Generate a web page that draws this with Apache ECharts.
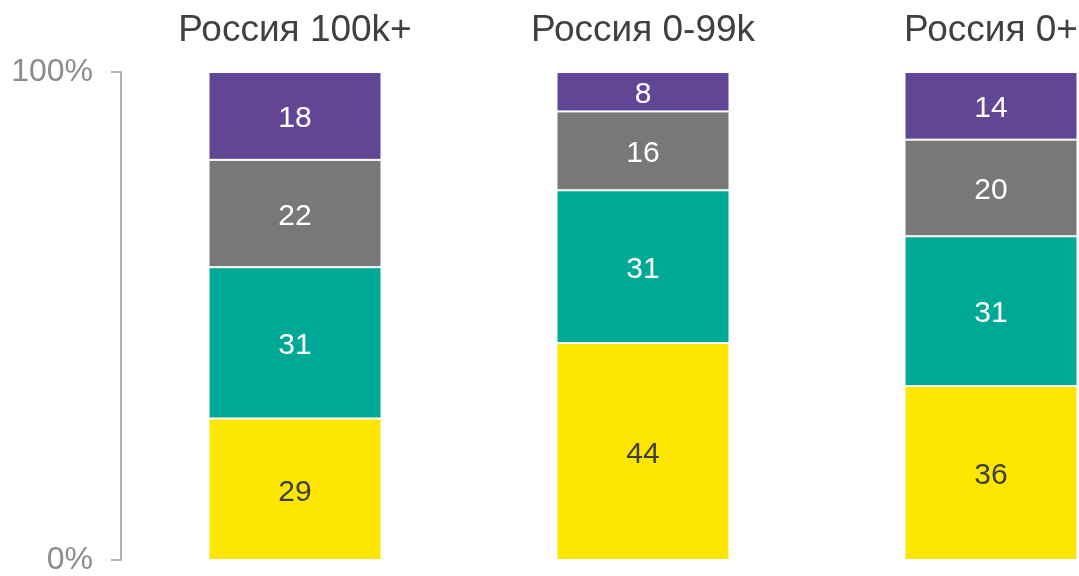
<!DOCTYPE html>
<html>
<head>
    <meta charset="utf-8">
    <title>Россия</title>
    <script src="https://cdn.jsdelivr.net/npm/echarts@6/dist/echarts.min.js"></script>
    <style>
        html, body { margin: 0; padding: 0; background: #fff; overflow: hidden; }
    </style>
</head>
<body>
    <!-- третий столбец обрезан краем картинки, поэтому холст шире окна -->
    <div id="chart" style="width: 1165px;height:576px;"></div>

    <script>
        // категории и значения (снизу вверх)
        const categories = ['Россия 100k+', 'Россия 0-99k', 'Россия 0+'];
        const yellowVals = [29, 44, 36];
        const tealVals = [31, 31, 31];
        const grayVals = [22, 16, 20];
        const purpleVals = [18, 8, 14];
        const yTicks = [0, 100];

        const colors = ['#fde700', '#00a995', '#787876', '#634596'];
        const labelColors = ['#404040', '#ffffff', '#ffffff', '#ffffff'];
        const groups = [yellowVals, tealVals, grayVals, purpleVals];

        // сумма по каждому столбцу -> 100%
        const totals = categories.map((c, i) => groups.reduce((s, g) => s + g[i], 0));

        const series = groups.map((vals, k) => ({
            type: 'bar',
            stack: 'total',
            barWidth: 173,
            itemStyle: { color: colors[k], borderColor: '#ffffff', borderWidth: 1 },
            label: {
                show: true,
                position: 'inside',
                offset: [0, 3],
                color: labelColors[k],
                fontSize: 30,
                fontFamily: 'Liberation Sans',
                formatter: p => vals[p.dataIndex]
            },
            data: vals.map((v, i) => v / totals[i] * 100)
        }));

        const chart = echarts.init(document.getElementById('chart'));
        chart.setOption({
            animation: false,
            grid: { left: 121, right: 0, top: 72, bottom: 15, containLabel: false },
            xAxis: {
                type: 'category',
                position: 'top',
                data: categories,
                axisLine: { show: false },
                axisTick: { show: false },
                axisLabel: {
                    margin: 23,
                    fontSize: 37,
                    color: '#404040',
                    fontFamily: 'Liberation Sans'
                }
            },
            yAxis: {
                type: 'value',
                min: yTicks[0],
                max: yTicks[1],
                interval: 100,
                splitLine: { show: false },
                axisLine: { show: true, lineStyle: { color: '#b0b0b0', width: 2 } },
                axisTick: { show: true, length: 10, lineStyle: { color: '#b0b0b0', width: 2 } },
                axisLabel: {
                    margin: 28,
                    fontSize: 32,
                    color: '#8c8c8c',
                    fontFamily: 'Liberation Sans',
                    formatter: '{value}%'
                }
            },
            series: series
        });
    </script>
</body>
</html>
